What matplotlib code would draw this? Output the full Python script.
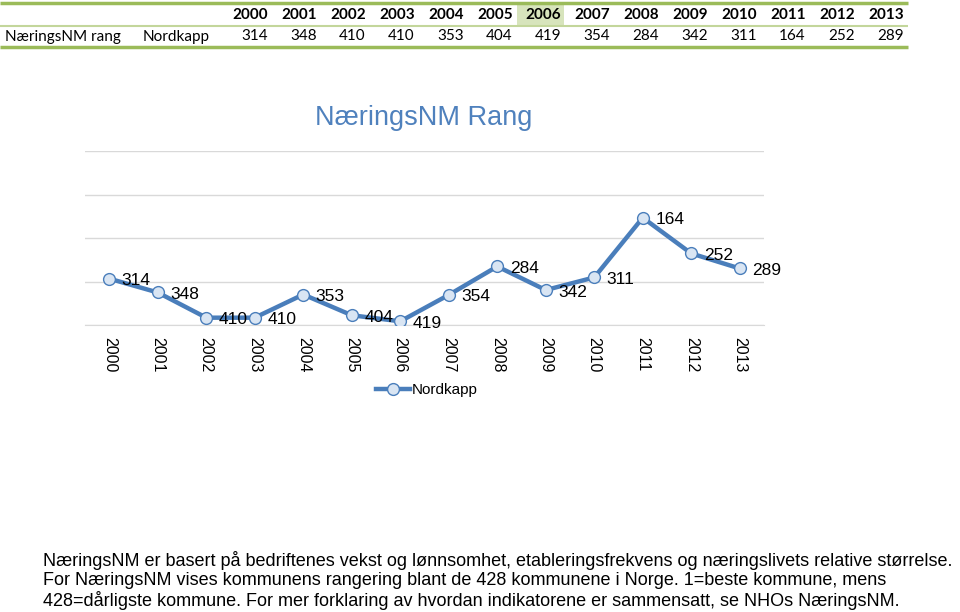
import matplotlib
matplotlib.use("Agg")
import matplotlib.pyplot as plt
from matplotlib.lines import Line2D
from matplotlib.patches import Rectangle
import numpy as np

years = ["2000", "2001", "2002", "2003", "2004", "2005", "2006",
         "2007", "2008", "2009", "2010", "2011", "2012", "2013"]
values = [314, 348, 410, 410, 353, 404, 419, 354, 284, 342, 311, 164, 252, 289]
row_label = "NæringsNM rang"
series_name = "Nordkapp"
title = "NæringsNM Rang"
note_lines = [
    "NæringsNM er basert på bedriftenes vekst og lønnsomhet, etableringsfrekvens og næringslivets relative størrelse.",
    "For NæringsNM vises kommunens rangering blant de 428 kommunene i Norge. 1=beste kommune, mens",
    "428=dårligste kommune. For mer forklaring av hvordan indikatorene er sammensatt, se NHOs NæringsNM.",
]
n_kommuner = 428

W, H = 960, 612
fig = plt.figure(figsize=(W / 100, H / 100), dpi=100)

# overlay axes in pixel coordinates for table and notes
ov = fig.add_axes([0, 0, 1, 1])
ov.set_xlim(0, W)
ov.set_ylim(H, 0)
ov.axis("off")

green = "#9BBB59"
light_green = "#C3D69B"
tfont = "Lato"

# table
ov.add_patch(Rectangle((517, 4), 47, 22, facecolor="#D7E4BC", edgecolor="none", zorder=1))
ov.plot([0, 908], [3, 3], color=green, lw=2.5, solid_capstyle="butt", zorder=2)
ov.plot([0, 908], [25.5, 25.5], color=light_green, lw=1.5, solid_capstyle="butt", zorder=2)
ov.plot([0, 908], [47, 47], color=green, lw=2.5, solid_capstyle="butt", zorder=2)
col_right0 = 268
col_step = 48.9
for i, (y, v) in enumerate(zip(years, values)):
    xr = col_right0 + i * col_step
    ov.text(xr, 15, y, ha="right", va="center", fontsize=11, fontweight="bold",
            family=tfont, color="#000000", zorder=3)
    ov.text(xr, 36.5, str(v), ha="right", va="center", fontsize=11,
            family=tfont, color="#000000", zorder=3)
ov.text(5, 36.5, row_label, ha="left", va="center", fontsize=11, family=tfont, zorder=3)
ov.text(143, 36.5, series_name, ha="left", va="center", fontsize=11, family=tfont, zorder=3)

# chart title
ov.text(424, 118, title, ha="center", va="center", fontsize=19.5,
        family="Liberation Sans", color="#4F81BD")

# notes
for k, line in enumerate(note_lines):
    ov.text(43, 560 + k * 20.5, line, ha="left", va="center", fontsize=13,
            family="Liberation Sans", color="#000000")

# main chart
left, right, top, bottom = 85, 764, 151, 325
ax = fig.add_axes([left / W, 1 - bottom / H, (right - left) / W, (bottom - top) / H])
x = np.arange(len(years))
line_color = "#4A7EBB"
ax.plot(x, values, color=line_color, lw=3.2, marker="o", markersize=8.5,
        markerfacecolor="#D9E5F3", markeredgecolor=line_color, markeredgewidth=1.0,
        zorder=3, label=series_name)
ax.set_xlim(-0.5, len(years) - 0.5)
ax.set_ylim(n_kommuner, 0)
ax.set_yticks(np.linspace(0, n_kommuner, 5))
ax.yaxis.grid(True, color="#D9D9D9", lw=1.0)
ax.set_axisbelow(True)
ax.tick_params(axis="y", left=False, labelleft=False)
ax.tick_params(axis="x", bottom=False, pad=5)
ax.set_xticks(x)
ax.set_xticklabels(years, rotation=-90, fontsize=11.5, family="Liberation Sans", va="top")
for s in ["left", "right", "top"]:
    ax.spines[s].set_visible(False)
ax.spines["bottom"].set_color("#D9D9D9")
ax.patch.set_alpha(0)

for xi, v in zip(x, values):
    ax.annotate(str(v), (xi, v), xytext=(9, -1.5), textcoords="offset points",
                ha="left", va="center", fontsize=12.5, family="Liberation Sans",
                color="#000000", zorder=4)

handle = Line2D([], [], color=line_color, lw=3.2, marker="o", markersize=8.5,
                markerfacecolor="#D9E5F3", markeredgecolor=line_color, markeredgewidth=1.0)
fig.legend([handle], [series_name], loc="center", bbox_to_anchor=(427 / W, 1 - 390 / H),
           frameon=False, prop={"family": "Liberation Sans", "size": 11},
           handlelength=2.2, handletextpad=0.1)

fig.savefig("out.png", dpi=100)
